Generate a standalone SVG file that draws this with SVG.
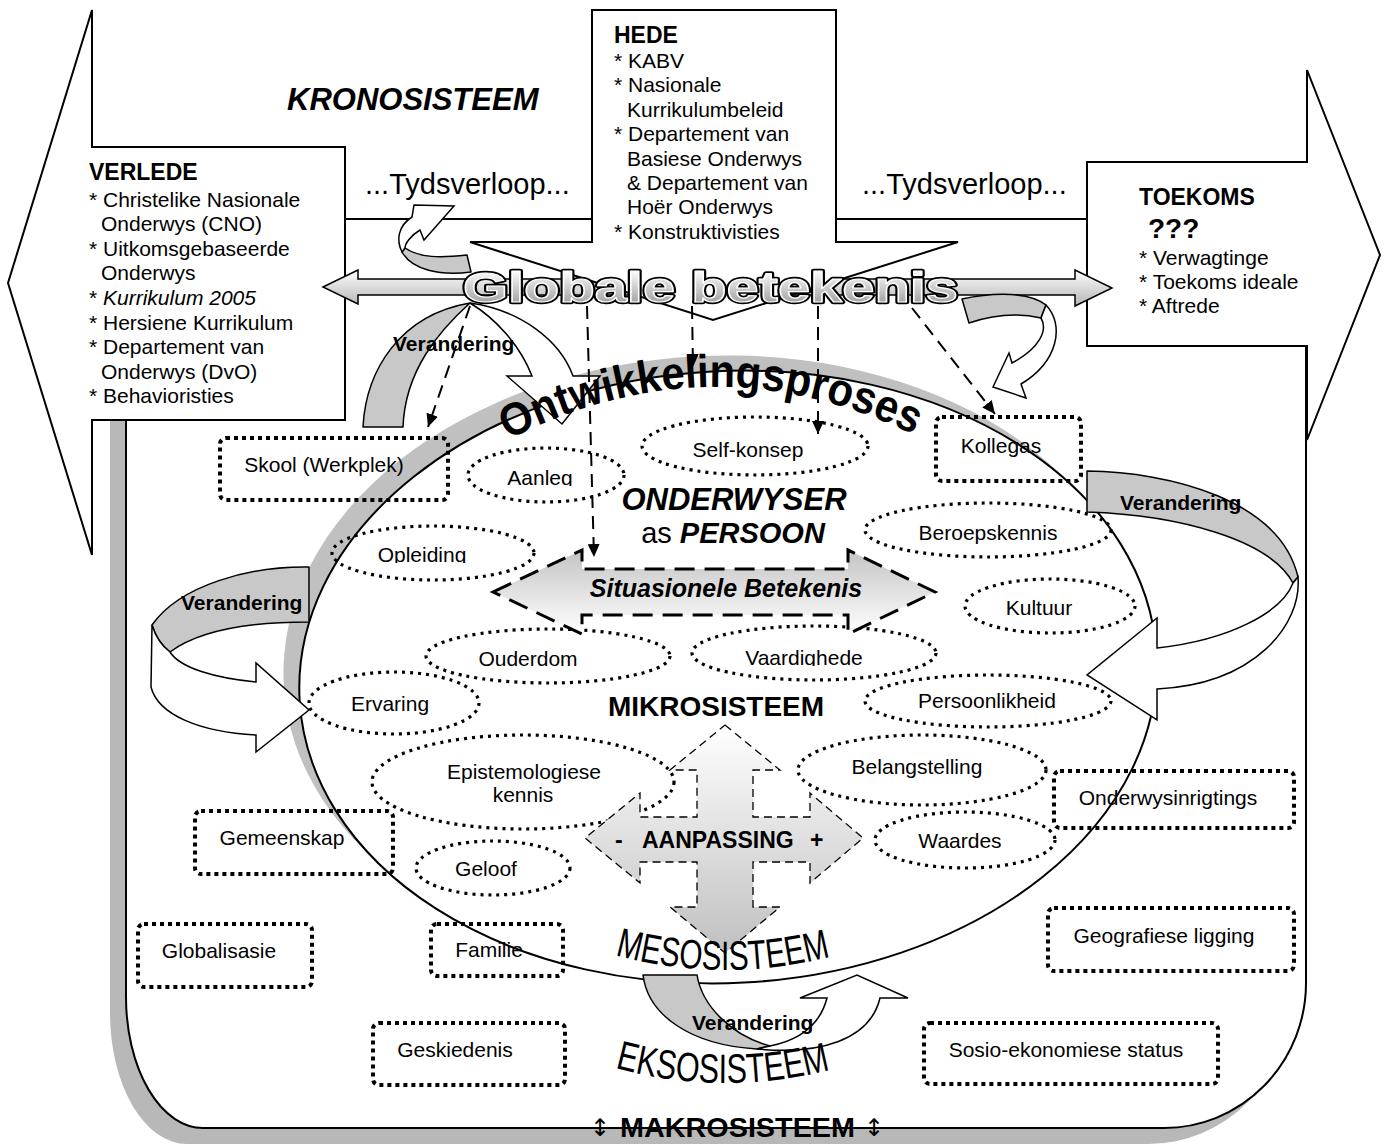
<svg xmlns="http://www.w3.org/2000/svg" width="1386" height="1144" viewBox="0 0 1386 1144">
<defs>
<style>
text{font-family:'Liberation Sans',Arial,Helvetica,sans-serif;fill:#000}
.t{font-size:21px}
.h{font-size:23px;font-weight:bold}
.b{font-weight:bold}
.i{font-style:italic}
.m{text-anchor:middle}
.edge{fill:#fff;stroke:#000;stroke-width:2;stroke-linejoin:miter}
.box{fill:none;stroke:#000;stroke-width:4;stroke-dasharray:4 4}
.oval{fill:none;stroke:#000;stroke-width:3.2;stroke-dasharray:3 5}
.dash{fill:none;stroke:#000;stroke-width:2;stroke-dasharray:13 8}
.grey{fill:#c8c8c8;stroke:#000;stroke-width:1.5;stroke-linejoin:round}
.white{fill:#fff;stroke:#000;stroke-width:1.5;stroke-linejoin:miter}
.ver{font-size:21px;font-weight:bold}
.arr{font-family:'DejaVu Sans',sans-serif;font-weight:normal;font-size:24px}
</style>
<linearGradient id="gArrow" x1="0" y1="0" x2="0" y2="1"><stop offset="0" stop-color="#ffffff"/><stop offset="1" stop-color="#b4b4b4"/></linearGradient>
<linearGradient id="gText" x1="0" y1="0" x2="0" y2="1"><stop offset="0.15" stop-color="#ffffff"/><stop offset="1" stop-color="#8c8c8c"/></linearGradient>
<linearGradient id="gSit" x1="0" y1="0" x2="0" y2="1"><stop offset="0" stop-color="#c4c4c4"/><stop offset="1" stop-color="#ffffff"/></linearGradient>
<linearGradient id="gCross" x1="0" y1="0" x2="0" y2="1"><stop offset="0" stop-color="#ffffff"/><stop offset="1" stop-color="#c0c0c0"/></linearGradient>
<marker id="ah" markerUnits="userSpaceOnUse" markerWidth="14" markerHeight="12" refX="13" refY="6" orient="auto"><path d="M0,0 L13,6 L0,12 Z" fill="#000"/></marker>
<path id="arcOnt" d="M 508,440 Q 716,334 924,440"/>
<path id="arcMeso" d="M 615,955 Q 726,985 837,955"/>
<path id="arcEkso" d="M 615,1068 Q 726,1098 837,1068"/>
<clipPath id="cAanleg"><rect x="480" y="440" width="130" height="46"/></clipPath>
<clipPath id="cOpl"><rect x="350" y="520" width="150" height="43"/></clipPath>
<clipPath id="cVaar"><rect x="720" y="620" width="170" height="46"/></clipPath>
</defs>

<!-- makrosisteem frame with its shadow -->
<g id="makrosisteem-frame">
<path d="M 150,235 L 1250,235 Q 1290,235 1290,275 L 1290,999 A 142 145 0 0 1 1148,1144 L 187,1144 A 77 131 0 0 1 110,1013 L 110,275 Q 110,235 150,235 Z" fill="#b8b8b8"/>
<path d="M 166,219 L 1266,219 Q 1306,219 1306,259 L 1306,983 A 142 145 0 0 1 1164,1128 L 203,1128 A 77 131 0 0 1 126,997 L 126,259 Q 126,219 166,219 Z" fill="#fff" stroke="#000" stroke-width="2"/>
</g>

<!-- mikrosisteem ellipse -->
<g id="mikrosisteem-ellipse" transform="rotate(-3 728 677)">
<ellipse cx="713" cy="661" rx="429" ry="306" fill="#c0c0c0"/>
<ellipse cx="728" cy="677" rx="429" ry="306" fill="#fff" stroke="#000" stroke-width="2"/>
</g>

<!-- kronosisteem: verlede, toekoms, hede -->
<g id="verlede">
<path class="edge" d="M 8,283 L 92,10 L 92,147 L 345,147 L 345,420 L 92,420 L 92,555 Z"/>
<text class="h" x="89" y="180">VERLEDE</text>
<text class="t" x="89" y="207">* Christelike Nasionale</text>
<text class="t" x="101" y="231">Onderwys (CNO)</text>
<text class="t" x="89" y="256">* Uitkomsgebaseerde</text>
<text class="t" x="101" y="280">Onderwys</text>
<text class="t" x="89" y="305">* <tspan class="i">Kurrikulum 2005</tspan></text>
<text class="t" x="89" y="330">* Hersiene Kurrikulum</text>
<text class="t" x="89" y="354">* Departement van</text>
<text class="t" x="101" y="379">Onderwys (DvO)</text>
<text class="t" x="89" y="403">* Behavioristies</text>
</g>

<g id="toekoms">
<path class="edge" d="M 1087,162 L 1307,162 L 1307,70 L 1380,255 L 1307,440 L 1307,346 L 1087,346 Z"/>
<text class="h" x="1139" y="205">TOEKOMS</text>
<text class="b" style="font-size:28px" x="1148" y="238">???</text>
<text class="t" x="1139" y="265">* Verwagtinge</text>
<text class="t" x="1139" y="289">* Toekoms ideale</text>
<text class="t" x="1139" y="313">* Aftrede</text>
</g>

<g id="kronosisteem-label">
<text class="b i" style="font-size:31px" x="287" y="110">KRONOSISTEEM</text>
<text style="font-size:29px" x="365" y="194">...Tydsverloop...</text>
<text style="font-size:29px" x="862" y="194">...Tydsverloop...</text>
</g>

<!-- global meaning double arrow -->
<g id="globale-arrow">
<path d="M 323,287 L 358,270 L 358,279 L 1075,279 L 1075,270 L 1112,288 L 1075,306 L 1075,295 L 358,295 L 358,304 Z" fill="url(#gArrow)" stroke="#000" stroke-width="1.5"/>
</g>

<g id="hede">
<path class="edge" d="M 592,10 L 836,10 L 836,242 L 958,242 L 713,320 L 470,242 L 592,242 Z"/>
<text class="h" x="614" y="43">HEDE</text>
<text class="t" x="614" y="68">* KABV</text>
<text class="t" x="614" y="92">* Nasionale</text>
<text class="t" x="627" y="117">Kurrikulumbeleid</text>
<text class="t" x="614" y="141">* Departement van</text>
<text class="t" x="627" y="166">Basiese Onderwys</text>
<text class="t" x="627" y="190">&amp; Departement van</text>
<text class="t" x="627" y="214">Hoër Onderwys</text>
<text class="t" x="614" y="239">* Konstruktivisties</text>
</g>

<!-- ribbon arrows -->
<g id="tyd-curl">
<path class="grey" d="M 405,248 C 420,258 440,258 467,255 L 471,272 C 440,276 412,270 402,252 Z"/>
<path class="white" d="M 402,252 C 396,240 398,226 412,217 L 414,205 L 454,206 L 424,240 L 420,230 C 410,236 405,244 405,248 Z"/>
</g>

<g id="verandering-top-left">
<path class="grey" d="M 363,427 C 366,370 400,315 470,303 C 440,330 405,370 403,427 Z"/>
<path class="white" d="M 470,303 C 520,310 560,340 573,376 L 600,376 L 562,424 L 507,376 L 532,376 C 520,345 495,318 470,303 Z"/>
<text class="ver" x="393" y="351">Verandering</text>
</g>

<g id="verandering-top-right">
<path class="grey" d="M 962,299 C 995,292 1030,292 1046,305 L 1041,318 C 1015,312 990,316 969,323 Z"/>
<path class="white" d="M 1046,305 C 1065,325 1058,362 1021,384 L 1026,398 L 993,387 L 1009,353 L 1012,363 C 1040,348 1048,330 1041,318 Z"/>
</g>

<g id="verandering-left">
<path class="grey" d="M 309,567 C 250,566 180,585 152,625 C 156,638 162,646 170,652 C 200,630 250,622 309,622 Z"/>
<path class="white" d="M 152,625 L 151,687 C 158,715 200,732 256,735 L 256,752 L 309,710 L 256,663 L 256,682 C 215,678 180,668 170,652 C 162,646 156,638 152,625 Z"/>
<text class="ver" x="181" y="610">Verandering</text>
</g>

<g id="verandering-right">
<path class="grey" d="M 1087,471 C 1170,472 1280,500 1298,577 L 1293,583 C 1270,540 1180,515 1087,512 Z"/>
<path class="white" d="M 1298,577 C 1302,625 1255,684 1157,689 L 1157,720 L 1087,675 L 1157,618 L 1157,648 C 1230,640 1282,612 1293,583 Z"/>
<text class="ver" x="1120" y="510">Verandering</text>
</g>

<g id="verandering-bottom">
<path class="grey" d="M 643,975 C 648,1015 690,1045 757,1049 L 770,1046 C 730,1035 702,1005 697,975 Z"/>
<path class="white" d="M 757,1049 C 820,1055 870,1040 880,998 L 908,998 L 857,975 L 800,998 L 827,998 C 820,1025 800,1040 770,1046 Z"/>
<text class="ver" x="692" y="1030">Verandering</text>
</g>

<!-- makrosisteem factors -->
<g id="skool"><rect class="box" x="220" y="438" width="228" height="62" rx="6"/><text class="t m" x="324" y="472">Skool (Werkplek)</text></g>
<g id="kollegas"><rect class="box" x="936" y="417" width="145" height="64" rx="6"/><text class="t m" x="1001" y="453">Kollegas</text></g>
<g id="gemeenskap"><rect class="box" x="195" y="811" width="198" height="63" rx="6"/><text class="t m" x="282" y="845">Gemeenskap</text></g>
<g id="globalisasie"><rect class="box" x="138" y="924" width="174" height="63" rx="6"/><text class="t m" x="219" y="958">Globalisasie</text></g>
<g id="familie"><rect class="box" x="431" y="924" width="132" height="52" rx="6"/><text class="t m" x="489" y="957">Familie</text></g>
<g id="geskiedenis"><rect class="box" x="373" y="1023" width="192" height="62" rx="6"/><text class="t m" x="455" y="1057">Geskiedenis</text></g>
<g id="onderwysinrigtings"><rect class="box" x="1054" y="771" width="240" height="57" rx="6"/><text class="t m" x="1168" y="805">Onderwysinrigtings</text></g>
<g id="geografiese-ligging"><rect class="box" x="1048" y="908" width="246" height="63" rx="6"/><text class="t m" x="1164" y="943">Geografiese ligging</text></g>
<g id="sosio-ekonomiese-status"><rect class="box" x="924" y="1023" width="294" height="61" rx="6"/><text class="t m" x="1066" y="1057">Sosio-ekonomiese status</text></g>

<!-- personal attributes -->
<g id="aanleg"><ellipse class="oval" cx="546" cy="475" rx="78" ry="27"/><text class="t m" x="540" y="485" clip-path="url(#cAanleg)">Aanleg</text></g>
<g id="self-konsep"><ellipse class="oval" cx="755" cy="446" rx="113" ry="29"/><text class="t m" x="748" y="457">Self-konsep</text></g>
<g id="opleiding"><ellipse class="oval" cx="433" cy="553" rx="101" ry="27"/><text class="t m" x="422" y="562" clip-path="url(#cOpl)">Opleiding</text></g>
<g id="beroepskennis"><ellipse class="oval" cx="988" cy="530" rx="123" ry="27"/><text class="t m" x="988" y="540">Beroepskennis</text></g>
<g id="kultuur"><ellipse class="oval" cx="1050" cy="606" rx="85" ry="27"/><text class="t m" x="1039" y="615">Kultuur</text></g>
<g id="ouderdom"><ellipse class="oval" cx="548" cy="656" rx="122" ry="27"/><text class="t m" x="528" y="666">Ouderdom</text></g>
<g id="vaardighede"><ellipse class="oval" cx="814" cy="653" rx="122" ry="27"/><text class="t m" x="804" y="665" clip-path="url(#cVaar)">Vaardighede</text></g>
<g id="ervaring"><ellipse class="oval" cx="394" cy="703" rx="85" ry="31"/><text class="t m" x="390" y="711">Ervaring</text></g>
<g id="persoonlikheid"><ellipse class="oval" cx="988" cy="701" rx="123" ry="26"/><text class="t m" x="987" y="708">Persoonlikheid</text></g>
<g id="epistemologiese-kennis"><ellipse class="oval" cx="523" cy="782" rx="151" ry="47"/><text class="t m" x="524" y="779">Epistemologiese</text><text class="t m" x="523" y="802">kennis</text></g>
<g id="belangstelling"><ellipse class="oval" cx="922" cy="770" rx="124" ry="35"/><text class="t m" x="917" y="774">Belangstelling</text></g>
<g id="waardes"><ellipse class="oval" cx="965" cy="840" rx="90" ry="28"/><text class="t m" x="960" y="848">Waardes</text></g>
<g id="geloof"><ellipse class="oval" cx="493" cy="868" rx="77" ry="27"/><text class="t m" x="486" y="876">Geloof</text></g>

<!-- situational meaning arrow -->
<g id="situasionele-betekenis">
<path d="M 493,592 L 582,550 L 582,569 L 848,569 L 848,550 L 935,592 L 848,634 L 848,615 L 582,615 L 582,634 Z" fill="url(#gSit)" stroke="#000" stroke-width="3" stroke-dasharray="20 10"/>
<text class="b i m" style="font-size:25px" x="726" y="597">Situasionele Betekenis</text>
</g>

<!-- adaptation cross arrow -->
<g id="aanpassing">
<path d="M 725,725 L 780,770 L 753,770 L 753,817 L 810,817 L 810,793 L 863,838 L 810,883 L 810,862 L 753,862 L 753,907 L 780,907 L 725,953 L 670,907 L 697,907 L 697,862 L 640,862 L 640,883 L 585,838 L 640,793 L 640,817 L 697,817 L 697,770 L 670,770 Z" fill="url(#gCross)" stroke="#000" stroke-width="1.3" stroke-dasharray="8 5"/>
<text class="b" style="font-size:23px" y="848"><tspan x="615">-</tspan><tspan x="642">AANPASSING</tspan><tspan x="810">+</tspan></text>
</g>

<!-- central labels -->
<g id="onderwyser">
<text class="b i m" style="font-size:31px" x="734" y="510">ONDERWYSER</text>
<text class="m" style="font-size:29px" x="733" y="543">as <tspan class="b i">PERSOON</tspan></text>
<text class="b m" style="font-size:28px" x="716" y="716">MIKROSISTEEM</text>
</g>

<g id="system-labels">
<text class="b" style="font-size:46px"><textPath href="#arcOnt" textLength="422" lengthAdjust="spacingAndGlyphs">Ontwikkelingsproses</textPath></text>
<text style="font-size:41px"><textPath href="#arcMeso" textLength="218" lengthAdjust="spacingAndGlyphs">MESOSISTEEM</textPath></text>
<text style="font-size:41px"><textPath href="#arcEkso" textLength="218" lengthAdjust="spacingAndGlyphs">EKSOSISTEEM</textPath></text>
<text class="b" style="font-size:28px" y="1137"><tspan class="arr" x="590" y="1136">↕</tspan><tspan x="620" y="1137" textLength="235" lengthAdjust="spacingAndGlyphs">MAKROSISTEEM</tspan><tspan class="arr" x="864" y="1136">↕</tspan></text>
<path d="M 560,1128 L 900,1128" stroke="#000" stroke-width="2"/>
<text x="463" y="302" textLength="495" lengthAdjust="spacingAndGlyphs" style="font-size:43px;font-weight:bold;fill:none;stroke:#000;stroke-width:4.5;stroke-linejoin:round">Globale betekenis</text>
<text x="463" y="302" textLength="495" lengthAdjust="spacingAndGlyphs" style="font-size:43px;font-weight:bold;fill:url(#gText);stroke:#fff;stroke-width:1.2;stroke-linejoin:round">Globale betekenis</text>
</g>

<!-- connectors -->
<g id="connectors">
<path class="dash" d="M 470,306 L 428,427" marker-end="url(#ah)"/>
<path class="dash" d="M 587,306 L 594,557" marker-end="url(#ah)"/>
<path class="dash" d="M 692,306 L 693,367" marker-end="url(#ah)"/>
<path class="dash" d="M 818,306 L 818,434" marker-end="url(#ah)"/>
<path class="dash" d="M 912,308 L 995,414" marker-end="url(#ah)"/>
</g>
</svg>
